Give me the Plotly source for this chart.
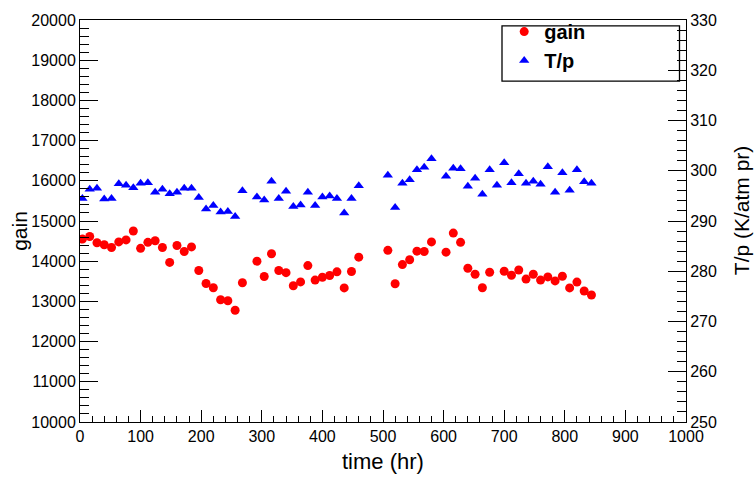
import plotly.graph_objects as go

# time (hr) for gain points
gain_time = [4, 16, 28, 40, 52, 64, 76, 88, 100, 112, 124, 136, 148, 160, 172, 184, 196, 208, 220, 232, 244, 256, 268,
             292, 304, 316, 328, 340, 352, 364, 376, 388, 400, 412, 424, 436, 448, 460,
             508, 520, 532, 544, 556, 568, 580,
             604, 616, 628, 640, 652, 664, 676, 700, 712, 724, 736, 748, 760, 772, 784, 796, 808, 820, 832, 844]
gain_vals = [14550, 14615, 14460, 14410, 14340, 14480, 14530, 14750, 14320, 14470, 14510, 14340, 13970, 14390, 14240, 14355, 13770, 13445, 13340, 13040, 13015, 12780, 13465,
             14000, 13620, 14185, 13770, 13715, 13390, 13485, 13890, 13530, 13600, 13645, 13735, 13335, 13745, 14100,
             14270, 13440, 13915, 14035, 14250, 14240, 14480,
             14225, 14700, 14470, 13825, 13675, 13340, 13725, 13750, 13650, 13780, 13555, 13675, 13530, 13610, 13510, 13625, 13335, 13480, 13260, 13160]

# time (hr) for T/p points
tp_time = [4, 16, 28, 40, 52, 64, 76, 88, 100, 112, 124, 136, 148, 160, 172, 184, 196, 208, 220, 232, 244, 256, 268,
           292, 304, 316, 328, 340, 352, 364, 376, 388, 400, 412, 424, 436, 448, 460,
           508, 520, 532, 544, 556, 568, 580,
           604, 616, 628, 640, 652, 664, 676, 688, 700, 712, 724, 736, 748, 760, 772, 784, 796, 808, 820, 832, 844]
tp_vals = [294.5, 296.3, 296.5, 294.4, 294.5, 297.4, 297.1, 296.6, 297.5, 297.6, 295.7, 296.3, 295.4, 295.7, 296.5, 296.5, 294.7, 292.4, 293.1, 291.8, 291.9, 290.9, 296.0,
           294.8, 294.2, 297.9, 294.5, 295.9, 292.9, 293.2, 295.7, 293.1, 294.8, 295.0, 294.5, 291.6, 294.5, 297.0,
           299.1, 292.7, 297.5, 298.2, 300.2, 300.7, 302.4,
           298.9, 300.5, 300.4, 296.9, 298.5, 295.3, 300.2, 297.1, 301.6, 297.6, 299.4, 297.5, 297.9, 297.3, 300.8, 295.7, 299.6, 296.1, 300.2, 297.8, 297.5]

FONT = "Liberation Sans, Arial, Helvetica, sans-serif"

fig = go.Figure()
fig.add_trace(go.Scatter(x=gain_time, y=gain_vals, mode="markers", name="gain",
                         marker=dict(symbol="circle", size=9, color="#ff0000", line=dict(width=0)),
                         yaxis="y"))
fig.add_trace(go.Scatter(x=tp_time, y=tp_vals, mode="markers", name="T/p",
                         marker=dict(symbol="triangle-up", size=9, color="#0000ff", line=dict(width=0)),
                         yaxis="y2"))

axis_common = dict(showgrid=False, zeroline=False, showline=True, linecolor="black", linewidth=1,
                   ticks="inside", tickcolor="black", tickwidth=1, tickformat="d",
                   tickfont=dict(family=FONT, size=16, color="black"))

fig.update_layout(
    width=755, height=477,
    margin=dict(l=80, r=69, t=14, b=55),
    paper_bgcolor="white", plot_bgcolor="white",
    font=dict(family=FONT, color="black"),
    xaxis=dict(range=[0, 1000], dtick=100, ticklen=12, mirror=True,
               minor=dict(dtick=20, ticklen=6, ticks="inside", tickcolor="black"),
               **axis_common),
    yaxis=dict(range=[10000, 20000], dtick=1000, ticklen=18, mirror=True,
               minor=dict(dtick=200, ticklen=9, ticks="inside", tickcolor="black"),
               **axis_common),
    yaxis2=dict(range=[250, 330], dtick=10, ticklen=18, overlaying="y", side="right",
                minor=dict(dtick=2, ticklen=9, ticks="inside", tickcolor="black"),
                **axis_common),
    showlegend=True,
    legend=dict(x=0.700, y=1 + 8 / 408, xanchor="left", yanchor="top",
                bgcolor="rgba(0,0,0,0)", borderwidth=0,
                font=dict(family=FONT, size=20, color="black", weight="bold"),
                tracegroupgap=0, itemsizing="trace"),
    shapes=[dict(type="rect", xref="paper", yref="paper",
                 x0=(502 - 80) / 606, x1=(679.5 - 80) / 606,
                 y0=1 - (76 - 14) / 408, y1=1 - (20 - 14) / 408,
                 line=dict(color="black", width=1.3), fillcolor="rgba(0,0,0,0)", layer="above")],
    annotations=[
        dict(text="time (hr)", xref="paper", yref="paper", x=(383 - 80) / 606, y=-(462 - 422) / 408,
             showarrow=False, xanchor="center", yanchor="middle",
             font=dict(family=FONT, size=22, color="black")),
        dict(text="gain", xref="paper", yref="paper", x=-(80 - 20) / 606, y=1 - (228 - 14) / 408,
             showarrow=False, xanchor="center", yanchor="middle", textangle=-90,
             font=dict(family=FONT, size=21, color="black")),
        dict(text="T/p (K/atm pr)", xref="paper", yref="paper", x=1 + (741 - 686) / 606, y=1 - (207 - 14) / 408,
             showarrow=False, xanchor="center", yanchor="middle", textangle=-90,
             font=dict(family=FONT, size=21, color="black")),
    ],
)

fig.write_html("out.html")
